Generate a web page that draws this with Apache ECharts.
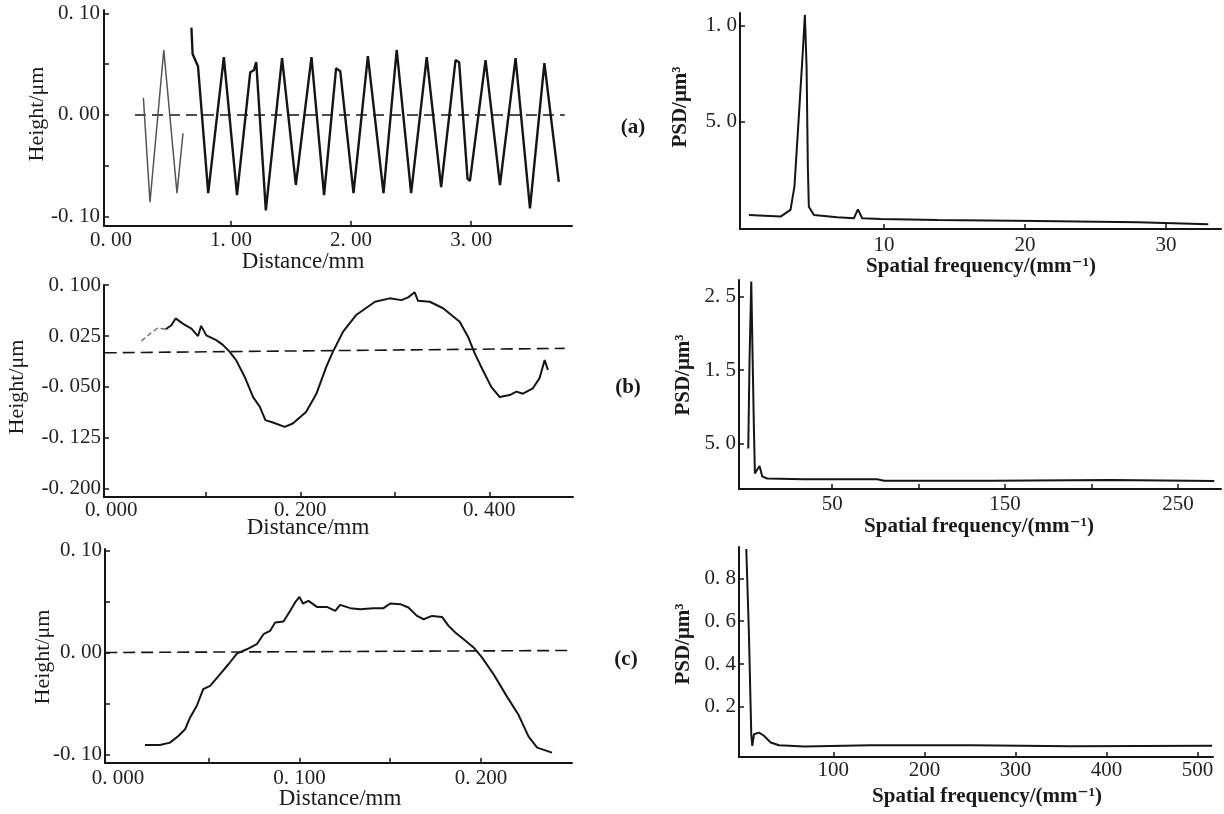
<!DOCTYPE html>
<html>
<head>
<meta charset="utf-8">
<script src="https://cdn.jsdelivr.net/npm/echarts@6/dist/echarts.min.js"></script>
<style>
html,body{margin:0;padding:0;background:#fff;}
#chart{width:1224px;height:814px;}
</style>
</head>
<body>
<div id="chart"></div>
<script>
// (a) profile, two traced pieces [distance mm, height um]
var profileA1 = [[0.27,0.017],[0.325,-0.086],[0.44,0.064],[0.55,-0.077],[0.60,-0.018]];
var profileA2 = [[0.67,0.086],[0.68,0.06],[0.725,0.048],[0.81,-0.077],[0.94,0.057],[1.05,-0.079],[1.16,0.042],[1.19,0.044],[1.21,0.052],[1.29,-0.094],[1.425,0.056],[1.54,-0.069],[1.67,0.057],[1.775,-0.079],[1.875,0.046],[1.91,0.043],[2.02,-0.077],[2.14,0.058],[2.27,-0.077],[2.38,0.064],[2.50,-0.077],[2.63,0.057],[2.75,-0.071],[2.87,0.054],[2.90,0.052],[2.97,-0.063],[2.99,-0.065],[3.12,0.054],[3.24,-0.069],[3.37,0.056],[3.49,-0.092],[3.61,0.051],[3.73,-0.066]];
var meanA = [[0.2,0],[3.78,0]];
// (a) PSD [spatial frequency, psd]
var psdA = [[0.43,0.65],[2.67,0.58],[3.38,0.89],[3.66,1.98],[3.97,5.25],[4.26,8.36],[4.40,10.0],[4.52,7.58],[4.61,2.91],[4.68,1.04],[5.04,0.65],[6.69,0.55],[7.87,0.50],[8.16,0.92],[8.46,0.50],[9.77,0.47],[13.8,0.42],[20.9,0.37],[28.0,0.31],[33.0,0.22]];

// (b) profile
var profileB1 = [[0.0317,0.0176],[0.0405,0.028],[0.049,0.037],[0.0575,0.035]];
var profileB2 = [[0.0575,0.035],[0.0635,0.041],[0.068,0.051],[0.076,0.043],[0.0847,0.036],[0.0917,0.025],[0.095,0.040],[0.1005,0.026],[0.111,0.019],[0.118,0.012],[0.125,0.002],[0.132,-0.0105],[0.141,-0.035],[0.150,-0.065],[0.157,-0.079],[0.163,-0.099],[0.171,-0.1026],[0.1834,-0.109],[0.192,-0.104],[0.206,-0.087],[0.217,-0.060],[0.2275,-0.020],[0.2345,0.002],[0.245,0.031],[0.259,0.056],[0.279,0.0756],[0.2945,0.0806],[0.307,0.078],[0.314,0.082],[0.321,0.0895],[0.3245,0.077],[0.337,0.0756],[0.351,0.066],[0.3686,0.046],[0.3774,0.024],[0.3845,-0.0006],[0.393,-0.025],[0.402,-0.050],[0.411,-0.065],[0.4215,-0.062],[0.4286,-0.057],[0.4355,-0.060],[0.446,-0.052],[0.453,-0.0375],[0.4585,-0.0105],[0.462,-0.025]];
var meanB = [[-0.007,0.0003],[0.4797,0.0068]];
var psdB = [[1.45,0.43],[2.2,1.64],[3.2,2.71],[4.0,1.64],[4.7,0.73],[5.3,0.09],[6.6,0.14],[8.0,0.19],[9.5,0.05],[12.4,0.02],[33.6,0.01],[76,0.01],[80,-0.01],[143,-0.01],[211,0.0],[271,-0.015]];

// (c) profile
var profileC = [[0.0149,-0.0908],[0.0232,-0.0908],[0.0287,-0.0885],[0.0333,-0.082],[0.037,-0.0754],[0.0397,-0.064],[0.0434,-0.0525],[0.047,-0.036],[0.0508,-0.0328],[0.0563,-0.0213],[0.0609,-0.0115],[0.0655,-0.001],[0.071,0.0032],[0.0765,0.0082],[0.0802,0.018],[0.0838,0.0212],[0.0866,0.0295],[0.0912,0.0305],[0.0949,0.041],[0.0976,0.0492],[0.1000,0.0547],[0.1019,0.0482],[0.105,0.0507],[0.1096,0.0448],[0.1151,0.0448],[0.1197,0.041],[0.1224,0.0468],[0.128,0.0436],[0.1335,0.0426],[0.1408,0.0436],[0.1463,0.0436],[0.15,0.0482],[0.1555,0.0475],[0.16,0.0442],[0.1647,0.036],[0.1684,0.0327],[0.173,0.036],[0.1785,0.035],[0.1821,0.0262],[0.1858,0.0197],[0.1904,0.0131],[0.1959,0.005],[0.2006,-0.005],[0.2069,-0.0213],[0.2143,-0.0433],[0.2207,-0.0614],[0.2262,-0.0826],[0.2309,-0.0934],[0.2391,-0.0983]];
var meanC = [[-0.007,0],[0.2483,0.002]];
var psdC = [[4.4,0.937],[7.3,0.54],[9.9,0.07],[11,0.018],[12.9,0.072],[18.4,0.08],[23.8,0.065],[31.2,0.034],[40.3,0.021],[67.8,0.015],[141,0.021],[251,0.021],[361,0.016],[516,0.018]];

// ticks and their labels
var tickAx = [1,2,3], labValAx = [0,1,2,3], labAx = ['0. 00','1. 00','2. 00','3. 00'];
var tickAy = [-0.1,-0.05,0,0.05,0.1], labValAy = [-0.1,0,0.1], labAy = ['-0. 10','0. 00','0. 10'];
var tickApx = [10,20,30], labApx = ['10','20','30'];
var tickApy = [5,9.5], labApy = ['5. 0','1. 0'];
var tickBx = [0.1,0.2,0.3,0.4], labValBx = [0,0.2,0.4], labBx = ['0. 000','0. 200','0. 400'];
var tickBy = [-0.2,-0.125,-0.05,0.025,0.1], labBy = ['-0. 200','-0. 125','-0. 050','0. 025','0. 100'];
var tickBpx = [50,100,150,200,250], labValBpx = [50,150,250], labBpx = ['50','150','250'];
var tickBpy = [0.5,1.5,2.5], labBpy = ['5. 0','1. 5','2. 5'];
var tickCx = [0.05,0.1,0.15,0.2], labValCx = [0,0.1,0.2], labCx = ['0. 000','0. 100','0. 200'];
var tickCy = [-0.1,-0.05,0,0.05,0.1], labValCy = [-0.1,0,0.1], labCy = ['-0. 10','0. 00','0. 10'];
var tickCpx = [100,200,300,400,500], labCpx = ['100','200','300','400','500'];
var tickCpy = [0.2,0.4,0.6,0.8], labCpy = ['0. 2','0. 4','0. 6','0. 8'];

var serif = '"Liberation Serif", "DejaVu Serif", serif';
var ink = '#151515';

function pick(vals, txt){
    return function(v){
        for (var i = 0; i < vals.length; i++) {
            if (Math.abs(vals[i] - v) < 1e-9) return txt[i];
        }
        return '';
    };
}

function axis(grid, min, max, ticks, labVals, labTxt, margin){
    return {
        type: 'value',
        gridIndex: grid,
        min: min,
        max: max,
        axisLine: {show: true, onZero: false, lineStyle: {color: ink, width: 2}},
        axisTick: {show: true, inside: true, length: 5, customValues: ticks, lineStyle: {color: ink, width: 1.5}},
        axisLabel: {
            customValues: labVals,
            formatter: pick(labVals, labTxt),
            margin: margin,
            fontSize: 21,
            fontFamily: serif,
            color: '#222'
        },
        splitLine: {show: false}
    };
}

function line(i, data, w, col, dash){
    return {
        type: 'line',
        xAxisIndex: i,
        yAxisIndex: i,
        data: data,
        symbol: 'none',
        smooth: false,
        lineStyle: {color: col || ink, width: w, type: dash || 'solid'},
        z: 3
    };
}

function txt(x, y, s, font, rot){
    return {
        type: 'text', x: x, y: y, rotation: rot || 0,
        style: {text: s, font: font, fill: '#1a1a1a', textAlign: 'center', textVerticalAlign: 'middle', align: 'center', verticalAlign: 'middle'}
    };
}

var myChart = echarts.init(document.getElementById('chart'));
var plain = '22px ' + serif;
var heavy = 'bold 21px ' + serif;

var option = {
    animation: false,
    backgroundColor: '#fff',
    grid: [
        {left: 104, top: 10, width: 468, height: 216, outerBoundsMode: 'none'},
        {left: 740, top: 13, width: 481, height: 216, outerBoundsMode: 'none'},
        {left: 104, top: 285, width: 469, height: 212, outerBoundsMode: 'none'},
        {left: 739, top: 280, width: 482, height: 209, outerBoundsMode: 'none'},
        {left: 105, top: 549, width: 467, height: 214, outerBoundsMode: 'none'},
        {left: 739, top: 547, width: 474, height: 210, outerBoundsMode: 'none'}
    ],
    xAxis: [
        axis(0, -0.058, 3.84, tickAx, labValAx, labAx, 4),
        axis(1, -0.2, 33.9, tickApx, tickApx, labApx, 6),
        axis(2, -0.0078, 0.4885, tickBx, labValBx, labBx, 3),
        axis(3, -3.9, 274.9, tickBpx, labValBpx, labBpx, 5),
        axis(4, -0.0071, 0.2501, tickCx, labValCx, labCx, 5),
        axis(5, -3.6, 517, tickCpx, tickCpx, labCpx, 3)
    ],
    yAxis: [
        axis(0, -0.1094, 0.1034, tickAy, labValAy, labAy, 4),
        axis(1, 0, 10.09, tickApy, tickApy, labApy, 3),
        axis(2, -0.2124, 0.1003, tickBy, tickBy, labBy, 3),
        axis(3, -0.123, 2.73, tickBpy, tickBpy, labBpy, 3),
        axis(4, -0.1085, 0.1017, tickCy, labValCy, labCy, 3),
        axis(5, -0.034, 0.946, tickCpy, tickCpy, labCpy, 3)
    ],
    series: [
        line(0, meanA, 1.6, ink, [11, 6]),
        line(0, profileA1, 1.5, '#555'),
        line(0, profileA2, 2.4),
        line(1, psdA, 2),
        line(2, meanB, 1.6, ink, [12, 6]),
        line(2, profileB1, 1.3, '#666', [5, 3]),
        line(2, profileB2, 2),
        line(3, psdB, 2),
        line(4, meanC, 1.6, ink, [12, 6]),
        line(4, profileC, 2),
        line(5, psdC, 2)
    ],
    graphic: [
        txt(303, 262, 'Distance/mm', '23px ' + serif),
        txt(308, 528, 'Distance/mm', '23px ' + serif),
        txt(340, 799, 'Distance/mm', '23px ' + serif),
        txt(981, 267, 'Spatial frequency/(mm⁻¹)', heavy),
        txt(979, 527, 'Spatial frequency/(mm⁻¹)', heavy),
        txt(987, 797, 'Spatial frequency/(mm⁻¹)', heavy),
        txt(37, 114, 'Height/μm', plain, Math.PI / 2),
        txt(17, 387, 'Height/μm', plain, Math.PI / 2),
        txt(43, 657, 'Height/μm', plain, Math.PI / 2),
        txt(681, 107, 'PSD/μm³', heavy, Math.PI / 2),
        txt(684, 375, 'PSD/μm³', heavy, Math.PI / 2),
        txt(684, 644, 'PSD/μm³', heavy, Math.PI / 2),
        txt(633, 128, '(a)', heavy),
        txt(628, 388, '(b)', heavy),
        txt(626, 660, '(c)', heavy)
    ]
};
myChart.setOption(option);
</script>
</body>
</html>
